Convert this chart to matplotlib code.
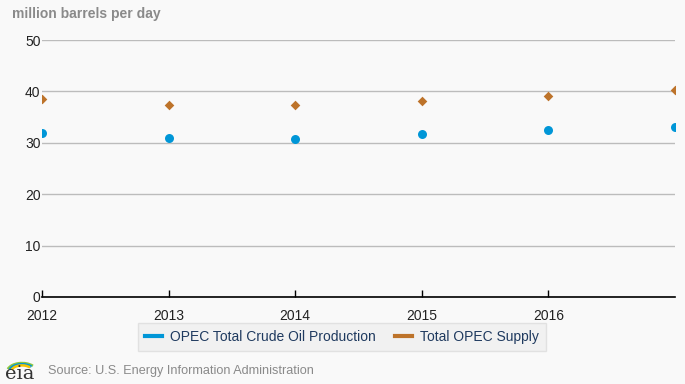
import matplotlib.pyplot as plt
from matplotlib.lines import Line2D
from matplotlib.patches import Arc

years = [2012, 2013, 2014, 2015, 2016, 2017]
crude = [32.0, 30.9, 30.8, 31.7, 32.4, 33.1]
supply = [38.5, 37.4, 37.3, 38.1, 39.2, 40.3]
xticks = [2012, 2013, 2014, 2015, 2016]
yticks = [0, 10, 20, 30, 40, 50]

blue = '#0096d7'
orange = '#bd732a'
bg = '#f9f9f9'

plt.rcParams['font.family'] = ['Liberation Sans', 'DejaVu Sans']

fig = plt.figure(figsize=(6.85, 3.84), dpi=100, facecolor=bg)
W, H = 685, 384
ax = fig.add_axes([42 / W, 1 - 297 / H, (675 - 42) / W, (297 - 40) / H])
ax.set_facecolor(bg)

ax.scatter(years, crude, s=42, color=blue, marker='o', zorder=3, linewidths=0)
ax.scatter(years, supply, s=24, color=orange, marker='D', zorder=3, linewidths=0)

ax.set_xlim(2012, 2017)
ax.set_ylim(0, 50)
ax.set_yticks(yticks)
ax.set_xticks(xticks)
ax.set_xticklabels([str(y) for y in xticks])
for s in ['top', 'right', 'left']:
    ax.spines[s].set_visible(False)
ax.spines['bottom'].set_color('#000000')
ax.spines['bottom'].set_linewidth(1.2)
ax.grid(axis='y', color='#bcbcbc', linewidth=1)
ax.set_axisbelow(True)
ax.tick_params(axis='y', length=0, pad=1, labelsize=10, labelcolor='#222222')
ax.tick_params(axis='x', length=5, direction='in', width=1, pad=9,
               labelsize=10, labelcolor='#222222')

fig.text(12 / W, 1 - 14 / H, 'million barrels per day', fontsize=10,
         fontweight='bold', color='#8a8a8a', va='center')

handles = [Line2D([], [], color=blue, lw=3), Line2D([], [], color=orange, lw=3)]
leg = fig.legend(handles, ['OPEC Total Crude Oil Production', 'Total OPEC Supply'],
                 loc='center', bbox_to_anchor=(342 / W, 1 - 337 / H), ncol=2,
                 frameon=True, fontsize=10, handlelength=1.2, handletextpad=0.6,
                 columnspacing=1.4, borderpad=0.5, fancybox=False)
leg.get_frame().set_facecolor('#f0f0f0')
leg.get_frame().set_edgecolor('#dddddd')
for t in leg.get_texts():
    t.set_color('#1f3a5f')

fig.text(48 / W, 1 - 371 / H, 'Source: U.S. Energy Information Administration',
         fontsize=9.1, color='#8a8a8a', va='center')
fig.text(5 / W, 1 - 374 / H, 'eia', fontsize=14, family='DejaVu Serif',
         color='#333333', va='center')
for c, r in [('#8cc63f', 15), ('#0096d7', 13), ('#f7c400', 11)]:
    fig.patches.append(Arc((22 / W, 1 - 372 / H), 2 * r / W, 1.2 * r / H,
                           theta1=45, theta2=160, color=c, lw=1.8,
                           transform=fig.transFigure))

fig.savefig('out.png', dpi=100, facecolor=bg)
